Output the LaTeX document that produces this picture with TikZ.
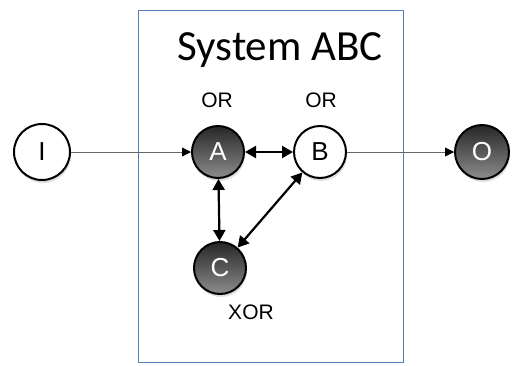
\documentclass[tikz,border=0pt]{standalone}
\usepackage{fontspec}
\setmainfont{Liberation Sans}
\newfontfamily\titlefont{Carlito}
\usetikzlibrary{arrows.meta,shadows}
\begin{document}
\begin{tikzpicture}[x=1pt,y=-1pt,
  lightnode/.style={circle,draw=black,line width=2pt,fill=white,minimum size=52pt,
    inner sep=0pt,font=\fontsize{26}{26}\selectfont,
    drop shadow={shadow xshift=1pt,shadow yshift=-3pt,opacity=0.25}},
  darknode/.style={circle,draw=black,line width=2pt,minimum size=52pt,inner sep=0pt,
    top color=black!85,bottom color=black!45,text=white,font=\fontsize{26}{26}\selectfont,
    drop shadow={shadow xshift=1pt,shadow yshift=-3pt,opacity=0.25}},
  thinlink/.style={draw=black!60,line width=0.8pt,-{Triangle[length=9pt,width=9pt,fill=black,color=black]}},
  boldlink/.style={draw=black,line width=2.2pt,{Triangle[length=11pt,width=12pt]}-{Triangle[length=11pt,width=12pt]}},
  gatelabel/.style={font=\fontsize{21}{21}\selectfont,anchor=base,inner sep=0pt}]
\useasboundingbox (0,0) rectangle (517,365);
\fill[white] (0,0) rectangle (517,365);
% system boundary
\node[draw={rgb,255:red,79;green,129;blue,189},line width=1pt,minimum width=265pt,minimum height=352pt,inner sep=0pt] (sys) at (270.5,186) {};
\node[font=\titlefont\fontsize{43}{43}\selectfont,anchor=base,inner sep=0pt] (title) at (280,60) {System ABC};
% nodes
\node[lightnode,minimum size=56pt] (I) at (42,152) {I};
\node[darknode] (A) at (218,152) {A};
\node[lightnode] (B) at (320,152) {B};
\node[darknode] (C) at (220,268) {C};
\node[darknode,minimum size=54pt] (O) at (482,152) {O};
% gate labels
\node[gatelabel] (orA) at (217,107) {OR};
\node[gatelabel] (orB) at (321,107) {OR};
\node[gatelabel] (xorC) at (251,319) {XOR};
% connectors
\draw[thinlink] (I) -- (A);
\draw[thinlink] (B) -- (O);
\draw[boldlink] (A) -- (B);
\draw[boldlink] (A) -- (C);
\draw[boldlink] (B) -- (C);
\end{tikzpicture}
\end{document}
